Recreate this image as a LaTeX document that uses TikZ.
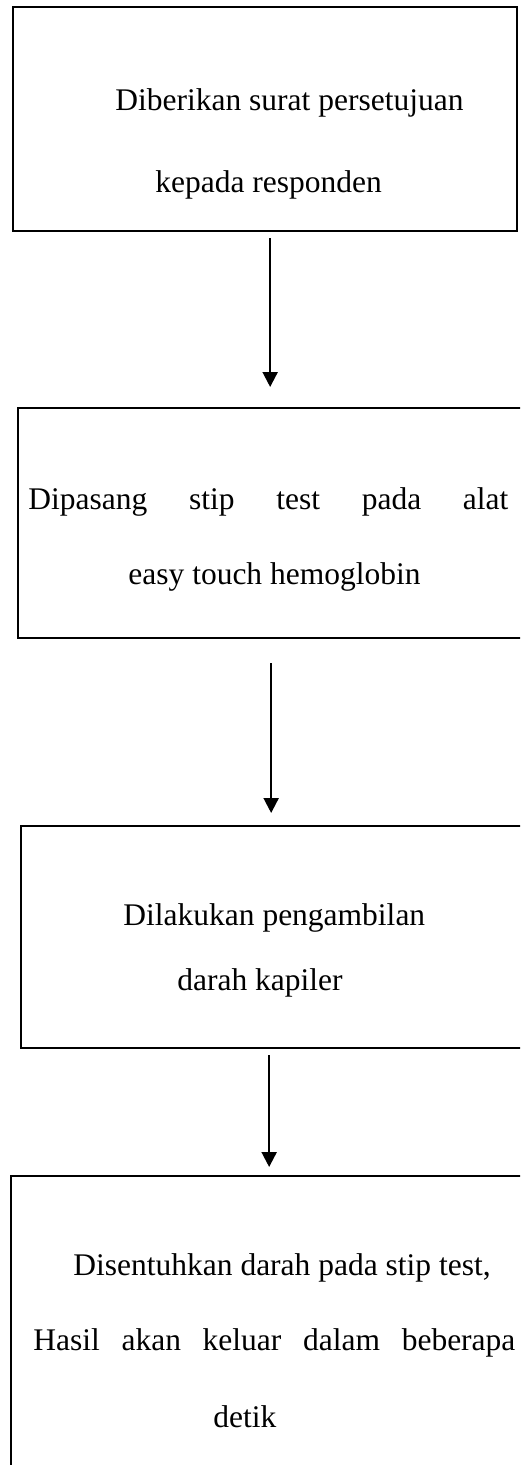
\documentclass[tikz,border=0pt]{standalone}
\usepackage{fontspec}
\setmainfont{Liberation Serif}
\usetikzlibrary{arrows.meta}
\tikzset{
  box/.style={draw, line width=1.15pt, anchor=north west, inner sep=0pt},
  label/.style={anchor=west, inner sep=0pt, font=\fontsize{15.75}{18}\selectfont},
  arr/.style={line width=1.1pt, -{Triangle[width=7.5pt,length=7.5pt]}}
}
\begin{document}
\begin{tikzpicture}[x=0.5pt, y=-0.5pt]
  \clip (0,0) rectangle (520,1465);
  \fill[white] (0,0) rectangle (520,1465);

  % step boxes
  \node[box, minimum width=252pt,   minimum height=112pt]   (b1) at (12,6)    {};
  \node[box, minimum width=253.5pt, minimum height=115pt]   (b2) at (17,407)  {};
  \node[box, minimum width=252pt,   minimum height=111pt]   (b3) at (20,825)  {};
  \node[box, minimum width=257pt,   minimum height=147.5pt] (b4) at (10,1175) {};

  % box texts
  \node[label] (t1a) at (115,103) {Diberikan surat persetujuan};
  \node[label] (t1b) at (155,185) {kepada responden};
  \node[label] (t2a) at (28,502)  {\makebox[240pt][s]{Dipasang stip test pada alat}};
  \node[label] (t2b) at (128,577) {easy touch hemoglobin};
  \node[label] (t3a) at (123,918) {Dilakukan pengambilan};
  \node[label] (t3b) at (177,983) {darah kapiler};
  \node[label] (t4a) at (73,1268) {Disentuhkan darah pada stip test,};
  \node[label] (t4b) at (33,1343) {\makebox[241pt][s]{Hasil akan keluar dalam beberapa}};
  \node[label] (t4c) at (213,1417) {detik};

  % connectors
  \draw[arr] ([shift={(5,6)}]b1.south)    -- ([shift={(-1.5,-20)}]b2.north);
  \draw[arr] ([shift={(-0.5,24)}]b2.south) -- ([shift={(-2,-12)}]b3.north);
  \draw[arr] ([shift={(-4,6)}]b3.south)   -- ([shift={(1,-8)}]b4.north);
\end{tikzpicture}
\end{document}
